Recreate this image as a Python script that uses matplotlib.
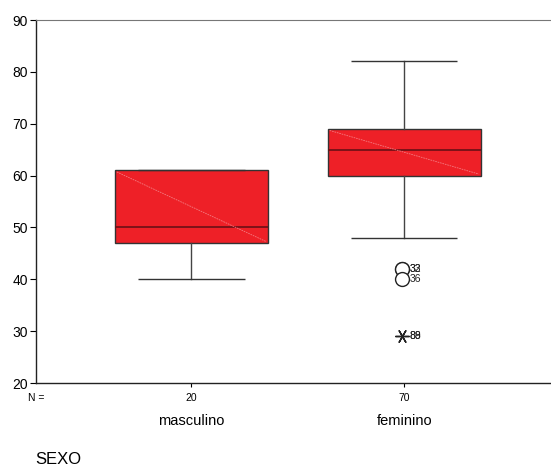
import matplotlib
matplotlib.use("Agg")
import matplotlib.pyplot as plt

plt.rcParams['font.family'] = ['Liberation Sans', 'DejaVu Sans']

groups = ["masculino", "feminino"]
n_counts = [20, 70]
q1 = [47, 60]
med = [50, 65]
q3 = [61, 69]
whislo = [40, 48]
whishi = [61, 82]
# outliers (circles) and extremes (asterisks) for feminino
out_vals = [42, 42, 40]
out_ids = ["32", "33", "36"]
ext_vals = [29, 29]
ext_ids = ["88", "89"]

box_red = "#ee2027"

fig = plt.figure(figsize=(5.51, 4.69), dpi=100)
ax = fig.add_axes([36 / 551, 1 - 383 / 469, 515 / 551, 363 / 469])

stats = []
for i in range(len(groups)):
    stats.append(dict(q1=q1[i], med=med[i], q3=q3[i],
                      whislo=whislo[i], whishi=whishi[i], fliers=[]))

pos = [1, 2]
ax.bxp(stats, positions=pos, widths=0.72, patch_artist=True,
       showfliers=False,
       boxprops=dict(facecolor=box_red, edgecolor="#333333", linewidth=1.0),
       medianprops=dict(color="#6b1015", linewidth=1.2),
       whiskerprops=dict(color="#444444", linewidth=1.0),
       capprops=dict(color="#333333", linewidth=1.0, solid_capstyle="butt"),
       capwidths=0.5)

# light diagonal line across each box (rendering artefact in the original)
for i, p in enumerate(pos):
    ax.plot([p - 0.35, p + 0.35], [q3[i] - 0.3, q1[i] + 0.3],
            color="#f47a80", lw=0.6, ls=(0, (2, 1)), zorder=3)

# outliers
p = pos[1]
ax.plot([p - 0.01] * len(out_vals), out_vals, ls="none", marker="o", ms=10,
        mfc="white", mec="#222222", mew=1.0, zorder=4)
for v, t in zip(out_vals, out_ids):
    ax.text(p + 0.025, v, t, fontsize=7.5, va="center", ha="left", color="#222222")
ax.plot([p - 0.01] * len(ext_vals), ext_vals, ls="none", marker=(6, 2, 90), ms=10,
        mec="#222222", mew=0.9, zorder=4)
for v, t in zip(ext_vals, ext_ids):
    ax.text(p + 0.025, v, t, fontsize=7.5, va="center", ha="left", color="#222222")

ax.set_xlim(0.27, 2.69)
ax.set_ylim(20, 90)
ax.set_yticks(range(20, 91, 10))
ax.set_xticks(pos)
ax.set_xticklabels([str(n) for n in n_counts], fontsize=7.5)
ax.tick_params(axis="y", labelsize=10, length=4, width=0.8, pad=2)
ax.tick_params(axis="x", length=3, width=0.8, pad=4)

for i, g in enumerate(groups):
    ax.text(pos[i], -0.105, g, transform=ax.get_xaxis_transform(),
            ha="center", va="center", fontsize=10.5)
ax.text(0.0, -0.04, "N =", transform=ax.transAxes, ha="center",
        va="center", fontsize=7.5)
fig.text(35 / 551, 1 - 459 / 469, "SEXO", ha="left", va="center", fontsize=12)

ax.spines["right"].set_visible(False)
ax.spines["top"].set_color("#777777")
for s in ["left", "bottom"]:
    ax.spines[s].set_color("#222222")
    ax.spines[s].set_linewidth(1.0)

fig.savefig("out.png", dpi=100)
